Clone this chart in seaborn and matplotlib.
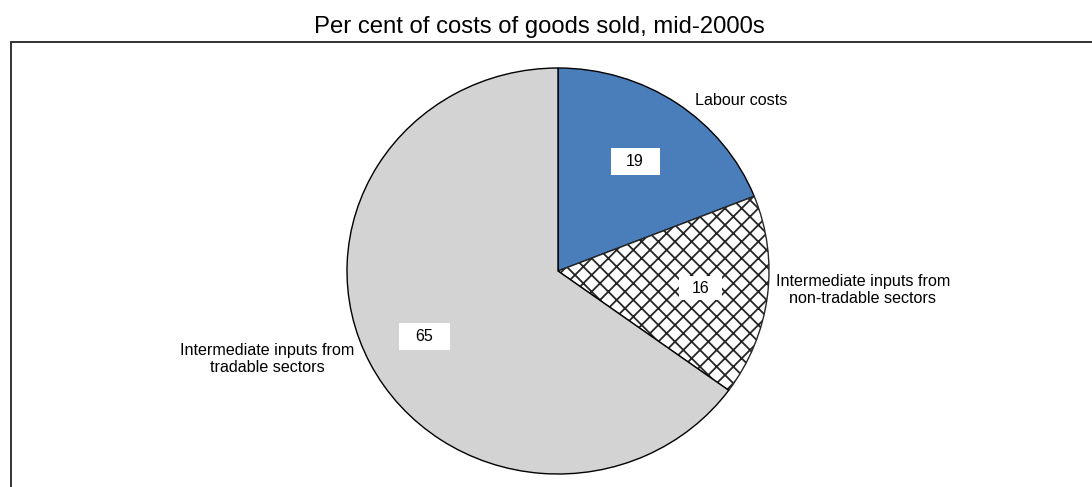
import numpy as np
import matplotlib
matplotlib.use("Agg")
import matplotlib.pyplot as plt
import matplotlib.transforms as mtransforms
from matplotlib.patches import Rectangle
import seaborn as sns

# Cost structure data
categories = ["Labour costs",
              "Intermediate inputs from\nnon-tradable sectors",
              "Intermediate inputs from\ntradable sectors"]
shares = [19, 16, 65]
title = "Per cent of costs of goods sold, mid-2000s"

sns.set_theme(style="white")
plt.rcParams["font.family"] = ["Liberation Sans", "DejaVu Sans"]
plt.rcParams["hatch.linewidth"] = 1.3

W, H, DPI = 1092, 487, 100
fig = plt.figure(figsize=(W / DPI, H / DPI), dpi=DPI)
fig.patch.set_facecolor("white")

ax = fig.add_axes([0, 0, 1, 1])

colors = ["#4A7EBB", "white", "#D3D3D3"]
hatches = [None, "xx", None]
wedges, _ = ax.pie(shares, startangle=90, counterclock=False, colors=colors,
                   wedgeprops=dict(edgecolor="black", linewidth=1.0))
for w, h in zip(wedges, hatches):
    if h:
        w.set_hatch(h)
        w.set_edgecolor("#262626")

# limits place the pie centre and radii in figure pixels
cx, cy, rx, ry = 558, 271, 211, 203
ax.set_aspect("auto")
ax.set_xlim((0 - cx) / rx, (W - cx) / rx)
ax.set_ylim((cy - H) / ry, (cy - 0) / ry)
ax.axis("off")

# value boxes inside the slices
label_r = [0.65, 0.68, 0.71]
box_sizes = [(49, 27), (43, 24), (51, 27)]
for w, v, r, (bw, bh) in zip(wedges, shares, label_r, box_sizes):
    mid = np.deg2rad((w.theta1 + w.theta2) / 2)
    x, y = r * np.cos(mid), r * np.sin(mid)
    tr = mtransforms.IdentityTransform() + mtransforms.ScaledTranslation(x, y, ax.transData)
    ax.add_patch(Rectangle((-bw / 2, -bh / 2), bw, bh, transform=tr,
                           facecolor="white", edgecolor="none", zorder=5))
    ax.text(x, y, f"{v}", ha="center", va="center", fontsize=11.5,
            color="black", zorder=6)

# category labels outside the pie
label_xy = [(0.87, 0.84), (1.445, -0.094), (-1.379, -0.433)]
for name, (lx, ly) in zip(categories, label_xy):
    ax.text(lx, ly, name, ha="center", va="center", fontsize=11.6,
            color="black", linespacing=1.2)

# title and frame
fig.text(539 / W, 1 - 27 / H, title, ha="center", va="center", fontsize=17.2,
         color="black")
fig.add_artist(Rectangle((10.5 / W, -0.1), 1.2, (H - 42) / H + 0.1,
                         transform=fig.transFigure, facecolor="none",
                         edgecolor="#222222", linewidth=1.3))

fig.savefig("out.png", dpi=DPI)
